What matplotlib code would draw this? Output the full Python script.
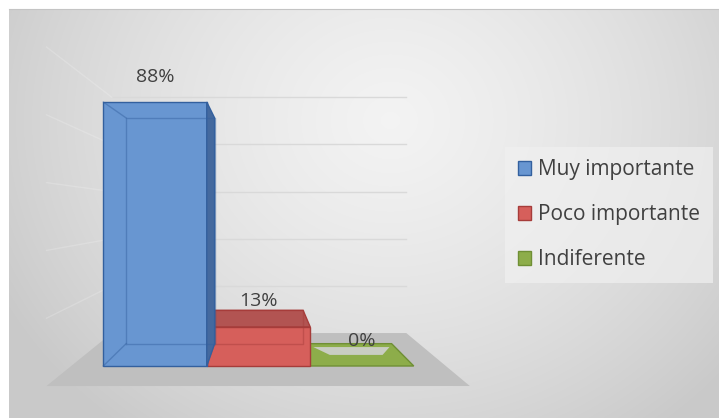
import numpy as np
import matplotlib
matplotlib.use("Agg")
import matplotlib.pyplot as plt
from matplotlib.patches import Polygon, Patch

plt.rcParams['font.family'] = ['Open Sans', 'DejaVu Sans']

# ---- data -------------------------------------------------------------
categories = ["Muy importante", "Poco importante", "Indiferente"]
shares = [0.88, 0.13, 0.0]
gridvalues = [0.2, 0.4, 0.6, 0.8, 1.0]

# ---- styling ----------------------------------------------------------
face_colors = ["#6896d1", "#d65f5b", "#8dad4a"]
side_colors = ["#44699e", "#a84442", "#6b8a33"]
top_colors = ["#4f78b3", "#b25452", "#8dad4a"]
edge_colors = ["#33609e", "#a63c3a", "#6f8f35"]
text_color = "#404040"

W, H = 719, 418
fig = plt.figure(figsize=(W / 100, H / 100), dpi=100)
fig.patch.set_facecolor("white")

# background panel with soft radial shading
bg = fig.add_axes([9 / W, 0, (W - 9) / W, (H - 9) / H])
yy, xx = np.mgrid[9:H, 9:W]
r = np.hypot((xx - 390) / 430, (yy - 120) / 380)
shade = np.clip(0.955 - 0.09 * r - 0.07 * r ** 2, 0.79, 1.0)
rgb = np.dstack([shade, shade, shade])
bg.imshow(rgb, extent=[0, 1, 0, 1], aspect="auto", origin="upper",
          interpolation="bilinear")
bg.set_xticks([])
bg.set_yticks([])
for name, sp in bg.spines.items():
    sp.set_visible(name == "top")
bg.spines["top"].set_color("#c4c4c4")

# main drawing axes: front plane of the bars, category units across,
# share units upward
ax = fig.add_axes([0, 0, 1, 1])
ax.patch.set_alpha(0)
ax.axis("off")
X0, Y0 = 155, 366          # pixel of category 0 / share 0 in the front plane
UX, UY = 103.5, 300        # pixels per category / per unit share
ax.set_xlim(-X0 / UX, (W - X0) / UX)
ax.set_ylim(-(H - Y0) / UY, Y0 / UY)

# simple one-point perspective
VX, VY = (261 - X0) / UX, (Y0 - 212) / UY
BAR_FRONT, BAR_BACK = 1.0, 0.855
FLOOR_FRONT, WALL = 1.13, 0.786


def proj(x, y, s):
    return VX + (x - VX) * s, VY + (y - VY) * s


n = len(categories)
fl, fr = -0.5 - 0.31, n - 0.5 + 0.31

# floor
floor = [proj(fl, 0, FLOOR_FRONT), proj(fr, 0, FLOOR_FRONT),
         proj(fr, 0, WALL), proj(fl, 0, WALL)]
ax.add_patch(Polygon(floor, closed=True, facecolor="#bfbfbf",
                     edgecolor="none", zorder=1))

# gridlines on the back wall and the faint ones on the side wall
for v in gridvalues:
    a, b = proj(fl, v, WALL), proj(fr, v, WALL)
    ax.plot([a[0], b[0]], [a[1], b[1]], color="#d9d9d9", lw=1, zorder=1.5)
    c = proj(fl, v, FLOOR_FRONT)
    ax.plot([a[0], c[0]], [a[1], c[1]], color="white", alpha=0.18, lw=1,
            zorder=1.5)

# bars, far-right first so the nearer ones overlap
for i in reversed(range(n)):
    v = shares[i]
    xl, xr = i - 0.5, i + 0.5
    z = 2 + (n - i)

    # top face when seen from above
    tf = [proj(xl, v, BAR_FRONT), proj(xr, v, BAR_FRONT),
          proj(xr, v, BAR_BACK), proj(xl, v, BAR_BACK)]
    if tf[2][1] >= tf[1][1]:
        ax.add_patch(Polygon(tf, closed=True, facecolor=top_colors[i],
                             edgecolor=edge_colors[i], lw=1, zorder=z))
        if v == 0:
            # bevel highlight inside a flat bar
            inner = [proj(i - 0.40, v, 0.877), proj(i - 0.26, v, 0.928),
                     proj(i + 0.29, v, 0.928), proj(i + 0.44, v, 0.877)]
            ax.add_patch(Polygon(inner, closed=True, facecolor="#c9cdc2",
                                 edgecolor="none", zorder=z + 0.1))

    # front face
    if v > 0:
        ax.bar(i, v, width=1.0, color=face_colors[i],
               edgecolor=edge_colors[i], lw=1, zorder=z)

    # visible side face
    if xr < VX and v > 0:
        sf = [proj(xr, 0, BAR_FRONT), proj(xr, v, BAR_FRONT),
              proj(xr, v, BAR_BACK), proj(xr, 0, BAR_BACK)]
        ax.add_patch(Polygon(sf, closed=True, facecolor=side_colors[i],
                             edgecolor=edge_colors[i], lw=1, zorder=z))

    # hidden edges seen through the translucent body
    if v > 0:
        back = [proj(xl, 0, BAR_BACK), proj(xr, 0, BAR_BACK),
                proj(xr, v, BAR_BACK), proj(xl, v, BAR_BACK)]
        bx = [p[0] for p in back] + [back[0][0]]
        by = [p[1] for p in back] + [back[0][1]]
        ax.plot(bx, by, color=edge_colors[i], alpha=0.45, lw=1, zorder=z + 0.2)
        for (x, y) in [(xl, 0), (xl, v)]:
            p, q = proj(x, y, BAR_FRONT), proj(x, y, BAR_BACK)
            ax.plot([p[0], q[0]], [p[1], q[1]], color=edge_colors[i],
                    alpha=0.45, lw=1, zorder=z + 0.2)

    # value label
    ax.text(i, v + 0.085, f"{round(v * 100)}%", ha="center", va="center",
            fontsize=14, color=text_color, zorder=10)

# legend
handles = [Patch(facecolor=face_colors[i], edgecolor=edge_colors[i],
                 label=categories[i]) for i in range(n)]
leg = ax.legend(handles=handles, loc="upper left",
                bbox_to_anchor=(505 / W, 1 - 147 / H),
                bbox_transform=fig.transFigure, frameon=True, fontsize=15,
                handlelength=0.65, handleheight=0.65, handletextpad=0.35,
                labelspacing=1.15, borderpad=0.6, borderaxespad=0,
                fancybox=False)
frame = leg.get_frame()
frame.set_facecolor("#f0f0f0")
frame.set_edgecolor("none")
frame.set_alpha(0.7)
for t in leg.get_texts():
    t.set_color(text_color)

fig.savefig("out.png", dpi=100, facecolor=fig.get_facecolor())
